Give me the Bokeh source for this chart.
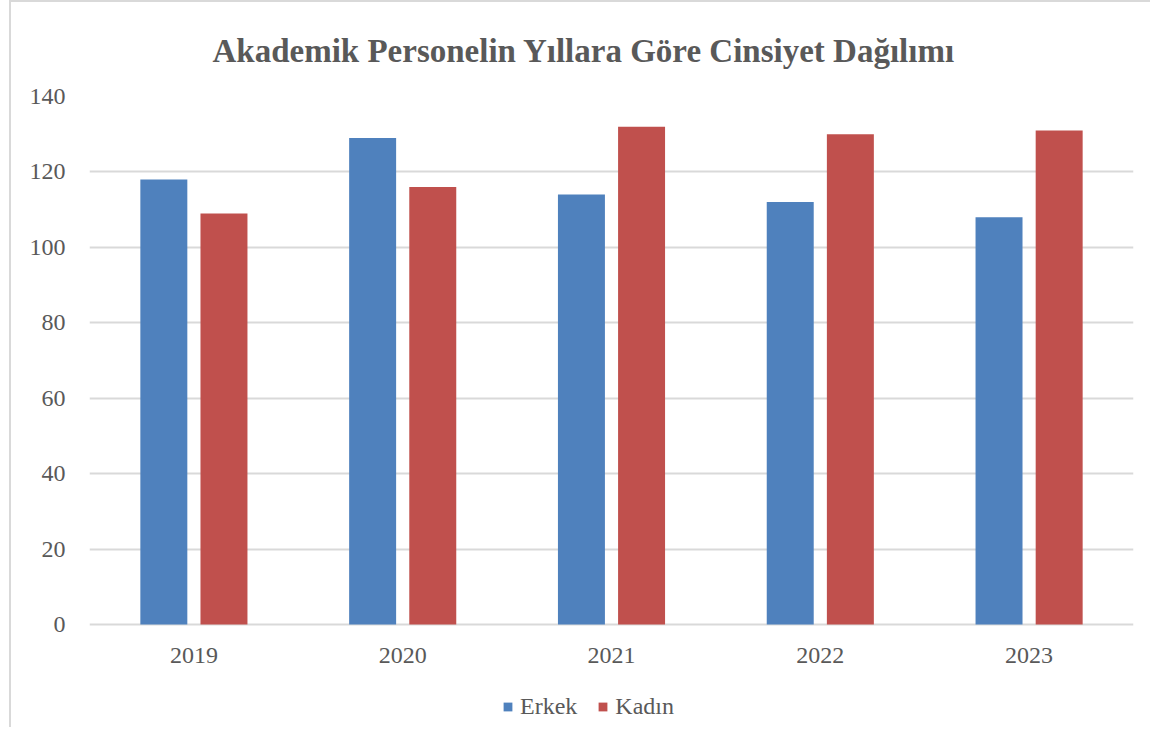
from bokeh.plotting import figure
from bokeh.models import ColumnDataSource, Legend, LegendItem, FactorRange
from bokeh.transform import dodge
from bokeh.core.properties import value
from bokeh.embed import file_html
from bokeh.resources import INLINE

years = ["2019", "2020", "2021", "2022", "2023"]
erkek = [118, 129, 114, 112, 108]
kadin = [109, 116, 132, 130, 131]
y_ticks = [0, 20, 40, 60, 80, 100, 120, 140]

src = ColumnDataSource(data=dict(years=years, erkek=erkek, kadin=kadin))

FONT = "Liberation Serif"
GRAY = "#595959"

# frame extends below zero so that the year labels and legend (Excel style) sit inside it
p = figure(x_range=FactorRange(*years, range_padding=0), y_range=(-26.5, 140),
           width=1141, height=727, output_backend="svg", toolbar_location=None,
           min_border_left=78, min_border_right=19, min_border_top=94, min_border_bottom=5)

p.title.text = "Akademik Personelin Yıllara Göre Cinsiyet Dağılımı"
p.title.align = "left"
p.title.offset = 123
p.title.text_font = FONT
p.title.text_font_size = "33px"
p.title.text_font_style = "bold"
p.title.text_color = GRAY
p.title.standoff = 55

r1 = p.vbar(x=dodge("years", -0.144, range=p.x_range), top="erkek", width=0.225,
            source=src, fill_color="#4f81bd", line_color=None)
r2 = p.vbar(x=dodge("years", 0.144, range=p.x_range), top="kadin", width=0.225,
            source=src, fill_color="#c0504d", line_color=None)

# category labels under the zero line
p.text(x="years", y=0, text="years", source=src, y_offset=31,
       text_align="center", text_baseline="middle",
       text_font=value(FONT), text_font_size="24px", text_color=GRAY)

p.xaxis.visible = False
p.yaxis.ticker = y_ticks
p.yaxis.axis_line_color = None
p.yaxis.major_tick_line_color = None
p.yaxis.minor_tick_line_color = None
p.yaxis.major_label_text_font = FONT
p.yaxis.major_label_text_font_size = "24px"
p.yaxis.major_label_text_color = GRAY
p.yaxis.major_label_standoff = 18

p.xgrid.grid_line_color = None
p.ygrid.grid_line_color = "#d9d9d9"
p.ygrid.grid_line_width = 2
p.outline_line_color = None

legend = Legend(items=[LegendItem(label="Erkek", renderers=[r1]),
                       LegendItem(label="Kadın", renderers=[r2])],
                orientation="horizontal", location=(413, 4),
                label_text_font=FONT, label_text_font_size="24px", label_text_color=GRAY,
                glyph_width=11, glyph_height=11, spacing=20, label_standoff=7,
                border_line_color=None, background_fill_alpha=0, padding=0, margin=0)
p.add_layout(legend)

p.styles = {"margin-left": "9px", "margin-top": "0px",
            "border-left": "2px solid #d9d9d9", "border-top": "2px solid #d9d9d9"}

open("out.html", "w").write(file_html(p, INLINE))
